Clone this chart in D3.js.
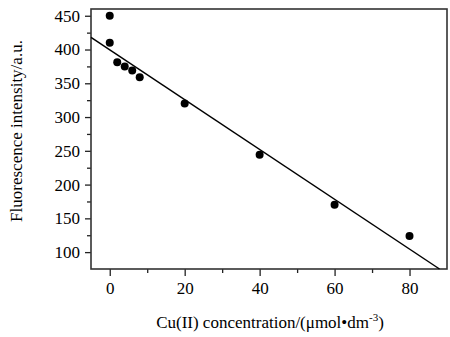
<!DOCTYPE html>
<html><head><meta charset="utf-8">
<script src="https://cdn.jsdelivr.net/npm/d3@7"></script>
<style>body{margin:0;background:#fff}svg{display:block}</style>
</head><body>
<script>
const concentration = [0, 0, 2, 4, 6, 8, 20, 40, 60, 80];
const intensity = [450, 410, 381, 375, 369, 359, 320, 244, 170, 124];
const fitX = [-5, 88];
const fitY = [418, 75];
const xTicks = [0, 20, 40, 60, 80];
const xMinor = [10, 30, 50, 70];
const yTicks = [100, 150, 200, 250, 300, 350, 400, 450];
const yMinor = [125, 175, 225, 275, 325, 375, 425];

const FONT = "'Liberation Serif', 'Times New Roman', serif";
const W = 450, H = 337;
const m = {left: 91, top: 9, right: 3, bottom: 68};
const svg = d3.select("body").append("svg").attr("width", W).attr("height", H)
  .attr("font-family", FONT);
const x = d3.scaleLinear().domain([-5, 90]).range([m.left, W - m.right]);
const y = d3.scaleLinear().domain([75, 460]).range([H - m.bottom, m.top]);

const g = svg.append("g");
function styleAxis(a) {
  a.attr("font-family", FONT).attr("font-size", 17);
  a.select(".domain").remove();
  a.selectAll("line").attr("stroke-width", 1.3).attr("stroke", "#222");
  a.selectAll("text").attr("fill", "#000");
}
// minor ticks
g.append("g").attr("transform", `translate(0,${H - m.bottom})`)
  .call(d3.axisBottom(x).tickValues(xMinor).tickSize(4).tickFormat(""))
  .call(styleAxis);
g.append("g").attr("transform", `translate(${m.left},0)`)
  .call(d3.axisLeft(y).tickValues(yMinor).tickSize(4).tickFormat(""))
  .call(styleAxis);
// major ticks
g.append("g").attr("transform", `translate(0,${H - m.bottom})`)
  .call(d3.axisBottom(x).tickValues(xTicks).tickSize(7).tickPadding(6))
  .call(styleAxis);
g.append("g").attr("transform", `translate(${m.left},0)`)
  .call(d3.axisLeft(y).tickValues(yTicks).tickSize(6).tickPadding(5))
  .call(styleAxis);

// frame
svg.append("rect").attr("x", m.left).attr("y", m.top)
  .attr("width", W - m.right - m.left).attr("height", H - m.bottom - m.top)
  .attr("fill", "none").attr("stroke", "#333").attr("stroke-width", 1.6);

// fit line
const fit = fitX.map((v, i) => [v, fitY[i]]);
svg.append("path").datum(fit)
  .attr("d", d3.line().x(d => x(d[0])).y(d => y(d[1])))
  .attr("stroke", "#000").attr("stroke-width", 1.5).attr("fill", "none");

// points
svg.selectAll("circle.pt").data(concentration).join("circle")
  .attr("cx", d => x(d)).attr("cy", (d, i) => y(intensity[i])).attr("r", 4).attr("fill", "#000");

// axis titles
const xt = svg.append("text").attr("x", 270).attr("y", 328).attr("text-anchor", "middle")
  .attr("font-size", 17).attr("fill", "#000");
xt.append("tspan").text("Cu(II) concentration/(\u03bcmol\u2022dm");
xt.append("tspan").attr("dy", -7).attr("font-size", 11).text("-3");
xt.append("tspan").attr("dy", 7).text(")");

svg.append("text").attr("transform", "translate(22,131) rotate(-90)")
  .attr("text-anchor", "middle").attr("font-size", 17).attr("fill", "#000")
  .text("Fluorescence intensity/a.u.");
</script>
</body></html>
